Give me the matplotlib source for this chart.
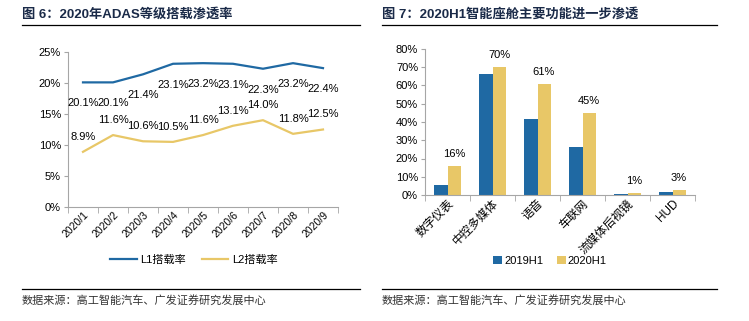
import matplotlib.pyplot as plt
from matplotlib.lines import Line2D
from matplotlib.ticker import FuncFormatter

plt.rcParams['font.family'] = ['Liberation Sans', 'Noto Sans CJK SC', 'DejaVu Sans']

months = ['2020/1', '2020/2', '2020/3', '2020/4', '2020/5', '2020/6', '2020/7', '2020/8', '2020/9']
l1_rate = [20.1, 20.1, 21.4, 23.1, 23.2, 23.1, 22.3, 23.2, 22.4]
l2_rate = [8.9, 11.6, 10.6, 10.5, 11.6, 13.1, 14.0, 11.8, 12.5]

features = ['数字仪表', '中控多媒体', '语音', '车联网', '流媒体后视镜', 'HUD']
h1_2019 = [5.5, 66.3, 41.5, 26.3, 0.5, 1.5]
h1_2020 = [16, 70, 61, 45, 1, 3]

blue = '#1f69a3'
yellow = '#e8c767'
navy = '#1a2a48'
grey = '#a6a6a6'

W, H = 749, 321
fig = plt.figure(figsize=(W / 100, H / 100), dpi=100)


def box(l, t, r, b):
    return [l / W, 1 - b / H, (r - l) / W, (b - t) / H]


def style_axes(ax, xsize):
    for s in ['top', 'right']:
        ax.spines[s].set_visible(False)
    for s in ['left', 'bottom']:
        ax.spines[s].set_color(grey)
        ax.spines[s].set_linewidth(0.8)
    ax.tick_params(axis='y', length=3, color=grey, labelsize=8, pad=2)
    ax.tick_params(axis='x', which='major', length=0, labelsize=xsize, pad=2)
    ax.tick_params(axis='x', which='minor', length=4, color=grey)


# left chart
ax1 = fig.add_axes(box(68, 52, 338, 207))
x = range(len(months))
ax1.plot(x, l1_rate, color=blue, lw=1.6, label='L1搭载率')
ax1.plot(x, l2_rate, color=yellow, lw=1.6, label='L2搭载率')
for i in x:
    ax1.annotate(f'{l1_rate[i]:.1f}%', (i, l1_rate[i]), xytext=(0, -15), textcoords='offset points',
                 ha='center', va='center', fontsize=8)
    ax1.annotate(f'{l2_rate[i]:.1f}%', (i, l2_rate[i]), xytext=(0, 11), textcoords='offset points',
                 ha='center', va='center', fontsize=8)
ax1.set_xlim(-0.5, len(months) - 0.5)
ax1.set_ylim(0, 25)
ax1.set_yticks(range(0, 26, 5))
ax1.yaxis.set_major_formatter(FuncFormatter(lambda v, p: f'{v:.0f}%'))
ax1.set_xticks(list(x))
ax1.set_xticks([i - 0.5 for i in range(len(months) + 1)], minor=True)
ax1.set_xticklabels(months, rotation=45, ha='right', rotation_mode='anchor')
style_axes(ax1, 7.5)
ax1.legend(loc='center', bbox_to_anchor=(194 / W, 1 - 260 / H), bbox_transform=fig.transFigure,
           ncol=2, frameon=False, fontsize=8, handlelength=2.4, handletextpad=0.3, columnspacing=1.4)

# right chart
ax2 = fig.add_axes(box(425, 49, 695, 195))
bw = 0.29
xb = range(len(features))
ax2.bar([i - bw / 2 for i in xb], h1_2019, width=bw, color=blue, label='2019H1')
ax2.bar([i + bw / 2 for i in xb], h1_2020, width=bw, color=yellow, label='2020H1')
for i in xb:
    ax2.annotate(f'{h1_2020[i]:.0f}%', (i + bw / 2, h1_2020[i]), xytext=(0, 5), textcoords='offset points',
                 ha='center', va='bottom', fontsize=8)
ax2.set_xlim(-0.5, len(features) - 0.5)
ax2.set_ylim(0, 80)
ax2.set_yticks(range(0, 81, 10))
ax2.yaxis.set_major_formatter(FuncFormatter(lambda v, p: f'{v:.0f}%'))
ax2.set_xticks(list(xb))
ax2.set_xticks([i - 0.5 for i in range(len(features) + 1)], minor=True)
ax2.set_xticklabels(features, rotation=45, ha='right', rotation_mode='anchor')
style_axes(ax2, 8.5)
ax2.legend(loc='center', bbox_to_anchor=(550 / W, 1 - 261 / H), bbox_transform=fig.transFigure,
           ncol=2, frameon=False, fontsize=8, handlelength=0.8, handleheight=0.8,
           handletextpad=0.2, columnspacing=1.2)

# titles, rules and source notes
for tx, title, rx in [(22, '图 6：2020年ADAS等级搭载渗透率', 360),
                      (382, '图 7：2020H1智能座舱主要功能进一步渗透', 717)]:
    fig.text(tx / W, 1 - 14 / H, title, fontsize=9.5, fontweight='bold', color=navy, va='center')
    fig.add_artist(Line2D([tx / W, rx / W], [1 - 25 / H] * 2, color='black', lw=0.9))
    fig.add_artist(Line2D([tx / W, rx / W], [1 - 289 / H] * 2, color='black', lw=0.9))
    fig.text(tx / W, 1 - 300 / H, '数据来源：高工智能汽车、广发证券研究发展中心', fontsize=8,
             color='#333333', va='center')

fig.savefig('out.png', dpi=100)
